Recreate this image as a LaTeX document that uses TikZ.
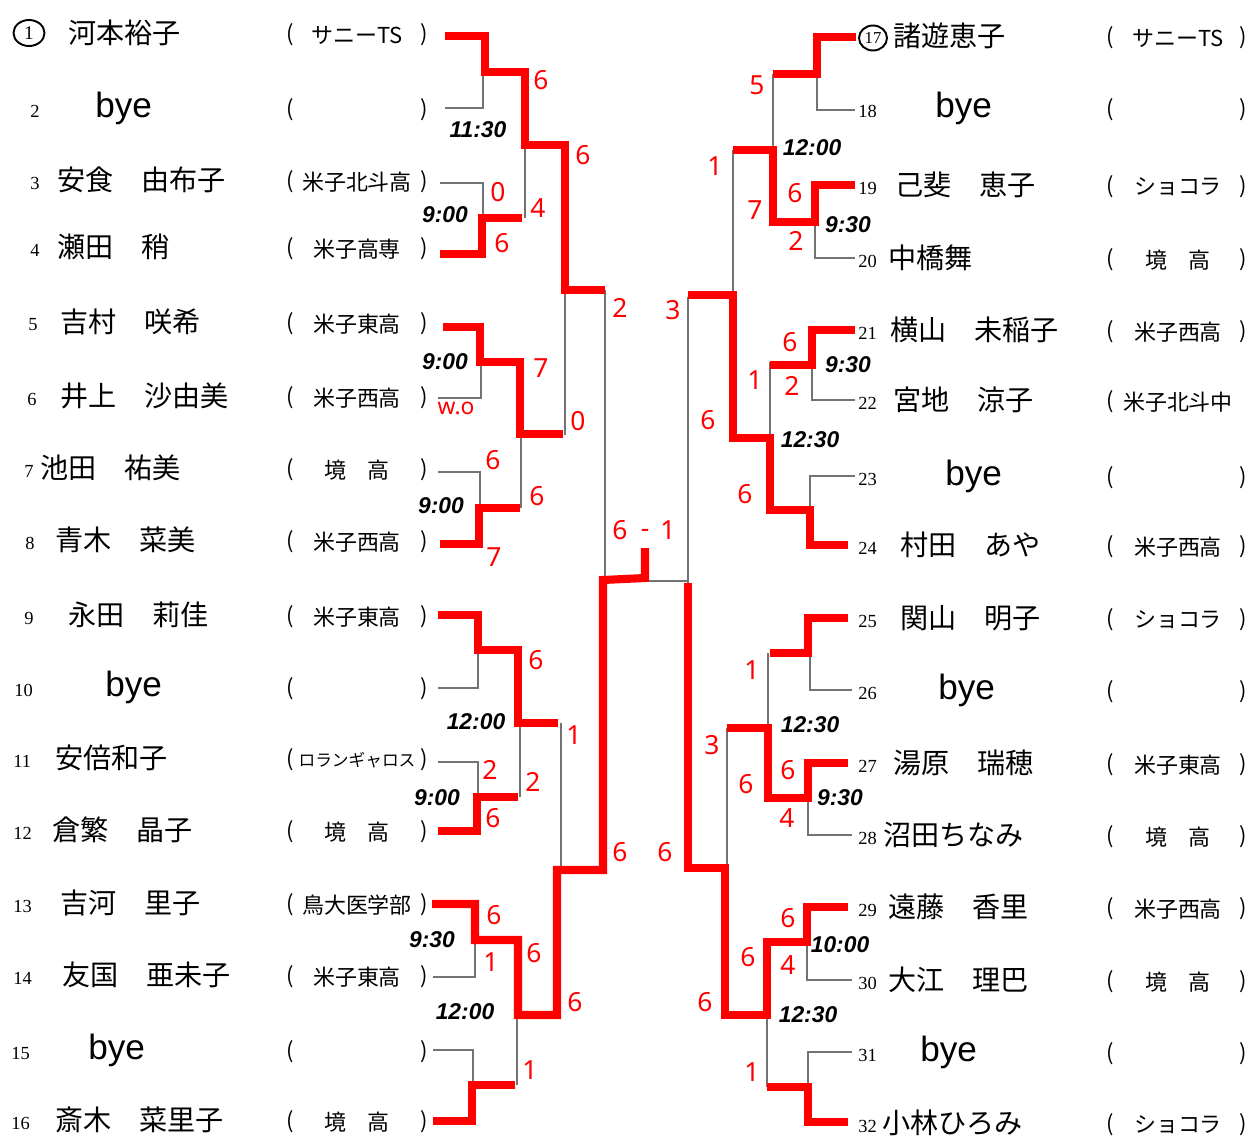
\documentclass[tikz,border=0pt]{standalone}
\usepackage{fontspec}
\usetikzlibrary{shapes.geometric}
\setmainfont{Liberation Serif}
\newfontfamily\jpf{Noto Sans CJK JP}
\newfontfamily\scf{Noto Sans}
\newfontfamily\hwf{Liberation Sans}
\newcommand\byew{{\hwf\fontsize{20}{20}\selectfont bye}}
\begin{document}
\begin{tikzpicture}[x=0.02cm,y=-0.02cm,
 gl/.style={draw=black!55, line width=0.9pt},
 rl/.style={draw=red, line width=4.6pt, line join=miter},
 sc/.style={text=red, font=\scf\fontsize{15}{15}\selectfont, inner sep=0pt},
 tm/.style={font=\hwf\bfseries\itshape\fontsize{13}{13}\selectfont, inner sep=0pt},
 nmf/.style={font=\jpf\fontsize{16}{16}\selectfont, anchor=west, inner sep=0pt},
 schf/.style={font=\jpf\fontsize{12.5}{12.5}\selectfont, inner sep=0pt},
 numf/.style={font=\fontsize{10.5}{10.5}\selectfont, inner sep=0pt, anchor=west}]
\path[use as bounding box, fill=white] (0,0) rectangle (1254,1142);

% ---------- left players ----------
\node[draw, ellipse, line width=1.1pt, inner sep=0pt, minimum width=0.62cm, minimum height=0.52cm, font=\fontsize{11}{11}\selectfont] (c1) at (29,33) {1};
\foreach \yy/\nx/\nt/\mx/\nam/\sch [count=\i] in {
 33/0/{}/68/河本裕子/サニーTS,
 108/30/2/95/\byew/{},
 180/30/3/57/安食　由布子/米子北斗高,
 247/30/4/57/瀬田　稍/米子高専,
 322/28/5/60/吉村　咲希/米子東高,
 396/27/6/60/井上　沙由美/米子西高,
 468/24/7/40/池田　祐美/境　高,
 540/25/8/55/青木　菜美/米子西高,
 615/24/9/68/永田　莉佳/米子東高,
 687/14/10/105/\byew/{},
 758/13/11/55/安倍和子/{\fontsize{9.5}{9.5}\selectfont ロランギャロス},
 830/13/12/52/倉繁　晶子/境　高,
 903/13/13/60/吉河　里子/鳥大医学部,
 975/13/14/62/友国　亜未子/米子東高,
 1050/11/15/88/\byew/{},
 1120/11/16/55/斎木　菜里子/境　高}
{
 \node[numf] (ln\i) at (\nx,\yy+3) {\nt};
 \node[nmf] (lp\i) at (\mx,\yy) {\nam};
 \node[schf] (lo\i) at (290,\yy+2) {(};
 \node[schf] (lc\i) at (424,\yy+2) {)};
 \node[schf] (ls\i) at (357,\yy+2) {\sch};
}

% ---------- right players ----------
\node[draw, ellipse, line width=1.1pt, inner sep=0pt, minimum width=0.56cm, minimum height=0.5cm, font=\fontsize{9.5}{9.5}\selectfont] (c17) at (873,38) {17};
\foreach \yy/\nt/\mx/\nam/\sch/\cl [count=\i from 17] in {
 36/{}/893/諸遊恵子/サニーTS/),
 108/18/935/\byew/{}/),
 185/19/895/己斐　恵子/ショコラ/),
 258/20/888/中橋舞/境　高/),
 330/21/890/横山　未稲子/米子西高/),
 400/22/893/宮地　涼子/米子北斗中/{},
 476/23/945/\byew/{}/),
 545/24/900/村田　あや/米子西高/),
 618/25/900/関山　明子/ショコラ/),
 690/26/938/\byew/{}/),
 763/27/893/湯原　瑞穂/米子東高/),
 835/28/883/沼田ちなみ/境　高/),
 907/29/888/遠藤　香里/米子西高/),
 980/30/888/大江　理巴/境　高/),
 1052/31/920/\byew/{}/),
 1123/32/882/小林ひろみ/ショコラ/)}
{
 \node[numf] (rn\i) at (858,\yy+3) {\nt};
 \node[nmf] (rp\i) at (\mx,\yy) {\nam};
 \node[schf] (ro\i) at (1110,\yy+2) {(};
 \node[schf] (rc\i) at (1243,\yy+2) {\cl};
 \node[schf] (rs\i) at (1178,\yy+2) {\sch};
}

% ---------- grey bracket lines, left ----------
\draw[gl] (445,108) -| (483,72);
\draw[gl] (440,183) -| (483,218);
\draw[gl] (525,145) -- (525,218);
\draw[gl] (438,398) -| (481,362);
\draw[gl] (438,472) -| (480,508);
\draw[gl] (521,433) -- (521,508);
\draw[gl] (565,290) -- (565,435);
\draw[gl] (605,290) -- (605,580);
\draw[gl] (438,688) -| (478,650);
\draw[gl] (438,762) -| (478,797);
\draw[gl] (520,723) -- (520,797);
\draw[gl] (433,977) -| (475,940);
\draw[gl] (433,1050) -| (473,1085);
\draw[gl] (517,1015) -- (517,1085);
\draw[gl] (561,723) -- (561,870);
\draw[gl] (645,581) -- (688,581);

% ---------- grey bracket lines, right ----------
\draw[gl] (855,110) -| (817,74);
\draw[gl] (855,258) -| (815,222);
\draw[gl] (773,74) -- (773,148);
\draw[gl] (855,400) -| (812,365);
\draw[gl] (855,476) -| (810,510);
\draw[gl] (770,362) -- (770,438);
\draw[gl] (733,150) -- (733,295);
\draw[gl] (688,297) -- (688,583);
\draw[gl] (852,690) -| (810,653);
\draw[gl] (852,835) -| (808,798);
\draw[gl] (768,653) -- (768,728);
\draw[gl] (727,728) -- (727,868);
\draw[gl] (852,980) -| (807,942);
\draw[gl] (852,1052) -| (808,1087);
\draw[gl] (767,1015) -- (767,1087);

% ---------- red winner paths, left ----------
\draw[rl] (445,36) -- (485,36) -- (485,72) -- (525,72) -- (525,145) -- (565,145) -- (565,290) -- (605,290);
\draw[rl] (440,254) -- (482,254) -- (482,218) -- (522,218);
\draw[rl] (443,327) -- (480,327) -- (480,362) -- (520,362) -- (520,434) -- (563,434);
\draw[rl] (440,544) -- (479,544) -- (479,508) -- (520,508);
\draw[rl] (438,615) -- (478,615) -- (478,650) -- (518,650) -- (518,723) -- (558,723);
\draw[rl] (438,831) -- (477,831) -- (477,797) -- (518,797);
\draw[rl] (432,904) -- (475,904) -- (475,940) -- (518,940) -- (518,1015) -- (557,1015) -- (557,870) -- (603,870) -- (603,580) -- (645,578) -- (645,548);
\draw[rl] (433,1121) -- (472,1121) -- (472,1085) -- (515,1085);

% ---------- red winner paths, right ----------
\draw[rl] (856,37) -- (817,37) -- (817,74) -- (773,74);
\draw[rl] (855,185) -- (815,185) -- (815,222) -- (773,222) -- (773,150) -- (733,150);
\draw[rl] (855,330) -- (812,330) -- (812,365) -- (770,365);
\draw[rl] (848,545) -- (810,545) -- (810,510) -- (770,510) -- (770,438) -- (733,438) -- (733,295) -- (688,295);
\draw[rl] (848,618) -- (808,618) -- (808,653) -- (770,653);
\draw[rl] (848,763) -- (808,763) -- (808,798) -- (768,798) -- (768,728) -- (727,728);
\draw[rl] (848,907) -- (807,907) -- (807,942) -- (767,942) -- (767,1015) -- (725,1015) -- (725,868) -- (688,868) -- (688,583);
\draw[rl] (848,1122) -- (808,1122) -- (808,1087) -- (767,1087);

% ---------- match times ----------
\foreach \x/\y/\t [count=\i] in {
 478/130/11:30, 445/215/9:00, 445/362/9:00, 441/506/9:00,
 476/722/12:00, 437/798/9:00, 432/940/9:30, 465/1012/12:00,
 812/148/12:00, 848/225/9:30, 848/365/9:30, 810/440/12:30,
 810/725/12:30, 840/798/9:30, 840/945/10:00, 808/1015/12:30}
 \node[tm] (t\i) at (\x,\y) {\t};

% ---------- red scores ----------
\foreach \x/\y/\t [count=\i] in {
 541/80/6, 498/192/0, 538/208/4, 502/243/6, 583/155/6, 620/308/2,
 541/368/7, 578/421/0, 493/460/6, 537/496/6, 494/557/7,
 536/660/6, 574/735/1, 490/770/2, 533/782/2, 493/818/6, 620/852/6,
 494/915/6, 491/962/1, 534/953/6, 575/1002/6, 530/1070/1,
 620/530/6, 668/530/1,
 757/85/5, 715/166/1, 795/193/6, 755/210/7, 796/241/2, 673/310/3,
 790/342/6, 755/380/1, 792/386/2, 708/420/6, 745/494/6,
 752/670/1, 712/745/3, 788/770/6, 746/784/6, 787/818/4, 665/852/6,
 788/918/6, 748/957/6, 788/965/4, 705/1002/6, 752/1072/1}
 \node[sc] (s\i) at (\x,\y) {\t};
\node[sc] (dash) at (645,533) {-};
\node[sc, font=\scf\fontsize{13}{13}\selectfont] (wo) at (456,408) {w.o};
\end{tikzpicture}
\end{document}
